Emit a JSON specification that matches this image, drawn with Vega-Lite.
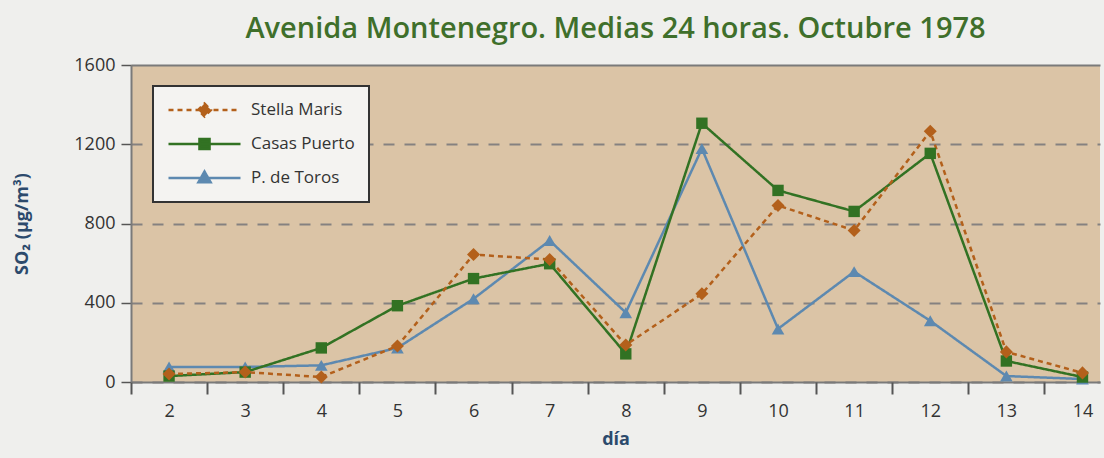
{
  "$schema": "https://vega.github.io/schema/vega-lite/v6.json",
  "width": 969,
  "height": 317,
  "autosize": {"type": "none"},
  "padding": {"left": 131, "top": 65, "right": 4, "bottom": 76},
  "background": "#efefed",
  "config": {
    "view": {"fill": "#dbc4a6", "stroke": null},
    "font": "Open Sans"
  },
  "title": {
    "text": "Avenida Montenegro. Medias 24 horas. Octubre 1978",
    "font": "Open Sans",
    "fontSize": 29,
    "fontWeight": 600,
    "color": "#3f6f2b",
    "anchor": "middle",
    "offset": 12
  },
  "data": {
    "values": [
      {"dia": 2, "serie": "P. de Toros", "so2": 76},
      {"dia": 3, "serie": "P. de Toros", "so2": 76},
      {"dia": 4, "serie": "P. de Toros", "so2": 84},
      {"dia": 5, "serie": "P. de Toros", "so2": 172},
      {"dia": 6, "serie": "P. de Toros", "so2": 420},
      {"dia": 7, "serie": "P. de Toros", "so2": 714},
      {"dia": 8, "serie": "P. de Toros", "so2": 350},
      {"dia": 9, "serie": "P. de Toros", "so2": 1178},
      {"dia": 10, "serie": "P. de Toros", "so2": 268},
      {"dia": 11, "serie": "P. de Toros", "so2": 557},
      {"dia": 12, "serie": "P. de Toros", "so2": 309},
      {"dia": 13, "serie": "P. de Toros", "so2": 30},
      {"dia": 14, "serie": "P. de Toros", "so2": 15},
      {"dia": 2, "serie": "Casas Puerto", "so2": 30},
      {"dia": 3, "serie": "Casas Puerto", "so2": 50},
      {"dia": 4, "serie": "Casas Puerto", "so2": 172},
      {"dia": 5, "serie": "Casas Puerto", "so2": 385},
      {"dia": 6, "serie": "Casas Puerto", "so2": 522},
      {"dia": 7, "serie": "Casas Puerto", "so2": 597},
      {"dia": 8, "serie": "Casas Puerto", "so2": 142},
      {"dia": 9, "serie": "Casas Puerto", "so2": 1306},
      {"dia": 10, "serie": "Casas Puerto", "so2": 967},
      {"dia": 11, "serie": "Casas Puerto", "so2": 861},
      {"dia": 12, "serie": "Casas Puerto", "so2": 1154},
      {"dia": 13, "serie": "Casas Puerto", "so2": 106},
      {"dia": 14, "serie": "Casas Puerto", "so2": 25},
      {"dia": 2, "serie": "Stella Maris", "so2": 40},
      {"dia": 3, "serie": "Stella Maris", "so2": 50},
      {"dia": 4, "serie": "Stella Maris", "so2": 25},
      {"dia": 5, "serie": "Stella Maris", "so2": 182},
      {"dia": 6, "serie": "Stella Maris", "so2": 643},
      {"dia": 7, "serie": "Stella Maris", "so2": 618},
      {"dia": 8, "serie": "Stella Maris", "so2": 187},
      {"dia": 9, "serie": "Stella Maris", "so2": 445},
      {"dia": 10, "serie": "Stella Maris", "so2": 891},
      {"dia": 11, "serie": "Stella Maris", "so2": 765},
      {"dia": 12, "serie": "Stella Maris", "so2": 1266},
      {"dia": 13, "serie": "Stella Maris", "so2": 152},
      {"dia": 14, "serie": "Stella Maris", "so2": 46}
    ]
  },
  "resolve": {"axis": {"x": "independent"}},
  "layer": [
    {
      "mark": {"type": "line", "strokeWidth": 2.5},
      "encoding": {
        "x": {
          "field": "dia", "type": "quantitative",
          "scale": {"domain": [1.5, 14.23], "nice": false, "zero": false},
          "axis": {
            "orient": "bottom",
            "values": [2, 3, 4, 5, 6, 7, 8, 9, 10, 11, 12, 13, 14],
            "ticks": false, "tickSize": 0, "grid": false,
            "labelFontSize": 18, "labelColor": "#333333", "labelPadding": 20,
            "labelFont": "Open Sans",
            "domainColor": "#7a7a7a", "domainWidth": 2,
            "title": "día", "titleFontSize": 18, "titleFontWeight": "bold",
            "titleColor": "#2c4a6c", "titlePadding": 10, "titleFont": "Open Sans"
          }
        },
        "y": {
          "field": "so2", "type": "quantitative",
          "scale": {"domain": [0, 1600], "nice": false},
          "axis": {
            "values": [0, 400, 800, 1200, 1600],
            "format": "d",
            "grid": true,
            "gridColor": {"condition": {"test": "datum.value === 1600", "value": "#7a7a7a"}, "value": "#858180"},
            "gridDash": {"condition": {"test": "datum.value === 1600", "value": []}, "value": [11, 10]},
            "gridWidth": 2,
            "tickSize": 10, "tickColor": "#555555", "tickWidth": 1.5,
            "labelFontSize": 18, "labelColor": "#333333", "labelPadding": 6,
            "labelFont": "Open Sans",
            "domainColor": "#7a7a7a", "domainWidth": 2,
            "title": "SO₂ (µg/m³)", "titleFontSize": 18, "titleFontWeight": "bold",
            "titleColor": "#2c4a6c", "titlePadding": 42, "titleFont": "Open Sans"
          }
        },
        "color": {
          "field": "serie", "type": "nominal",
          "scale": {
            "domain": ["Stella Maris", "Casas Puerto", "P. de Toros"],
            "range": ["#b3601b", "#327223", "#5d89b0"]
          },
          "legend": {
            "title": null,
            "orient": "none",
            "legendX": 22,
            "legendY": 21,
            "fillColor": "#f4f3f1",
            "strokeColor": "#333333",
            "padding": 14,
            "symbolSize": 5184,
            "symbolStrokeWidth": 2.5,
            "clipHeight": 20,
            "labelFontSize": 17,
            "labelColor": "#333333",
            "labelFont": "Open Sans",
            "labelOffset": 9,
            "rowPadding": 14,
            "encode": {
              "legend": {"update": {"strokeWidth": {"value": 2}}},
              "symbols": {
                "update": {
                  "size": {"value": 5184},
                  "shape": [
                    {"test": "datum.value === 'Stella Maris'", "value": "M-1,0H1M0,-0.18L0.18,0L0,0.18L-0.18,0Z"},
                    {"test": "datum.value === 'Casas Puerto'", "value": "M-1,0H1M-0.14,-0.14H0.14V0.14H-0.14Z"},
                    {"value": "M-1,0H1M0,-0.18L0.17,0.12H-0.17Z"}
                  ],
                  "fill": [
                    {"test": "datum.value === 'Stella Maris'", "value": "#b3601b"},
                    {"test": "datum.value === 'Casas Puerto'", "value": "#327223"},
                    {"value": "#5d89b0"}
                  ],
                  "stroke": [
                    {"test": "datum.value === 'Stella Maris'", "value": "#b3601b"},
                    {"test": "datum.value === 'Casas Puerto'", "value": "#327223"},
                    {"value": "#5d89b0"}
                  ],
                  "strokeWidth": {"value": 2.5},
                  "fillOpacity": {"value": 1},
                  "strokeDash": [
                    {"test": "datum.value === 'Stella Maris'", "value": [4, 3]},
                    {"value": []}
                  ]
                }
              }
            }
          }
        },
        "strokeDash": {
          "field": "serie", "type": "nominal",
          "scale": {
            "domain": ["Stella Maris", "Casas Puerto", "P. de Toros"],
            "range": [[5, 4], [1, 0], [1, 0]]
          },
          "legend": null
        }
      }
    },
    {
      "transform": [{"filter": "datum.serie === 'P. de Toros'"}],
      "mark": {"type": "point", "filled": true, "opacity": 1, "size": 160, "shape": "triangle-up", "color": "#5d89b0"},
      "encoding": {
        "x": {
          "field": "dia", "type": "quantitative",
          "axis": {
            "orient": "bottom",
            "values": [1.5, 2.5, 3.5, 4.5, 5.5, 6.5, 7.5, 8.5, 9.5, 10.5, 11.5, 12.5, 13.5],
            "labels": false, "ticks": true, "tickSize": 12, "tickColor": "#555555", "tickWidth": 2,
            "domain": false, "grid": false, "title": null
          }
        },
        "y": {"field": "so2", "type": "quantitative"}
      }
    },
    {
      "transform": [{"filter": "datum.serie === 'Casas Puerto'"}],
      "mark": {"type": "point", "filled": true, "opacity": 1, "size": 130, "shape": "square", "color": "#327223"},
      "encoding": {
        "x": {"field": "dia", "type": "quantitative", "axis": null},
        "y": {"field": "so2", "type": "quantitative"}
      }
    },
    {
      "transform": [{"filter": "datum.serie === 'Stella Maris'"}],
      "mark": {"type": "point", "filled": true, "opacity": 1, "size": 170, "shape": "diamond", "color": "#b3601b"},
      "encoding": {
        "x": {"field": "dia", "type": "quantitative", "axis": null},
        "y": {"field": "so2", "type": "quantitative"}
      }
    }
  ]
}
